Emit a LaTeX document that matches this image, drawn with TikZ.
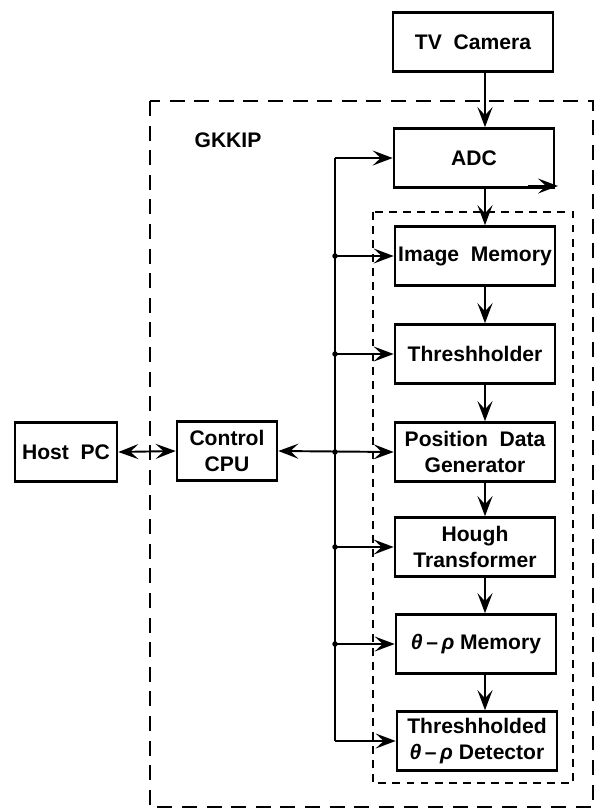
\documentclass[tikz,border=0pt]{standalone}
\usepackage{fontspec}
\setmainfont{Liberation Sans}
\usetikzlibrary{arrows.meta}
\tikzset{
  blk/.style={draw, line width=1.5pt, minimum width=32mm, minimum height=11.8mm, inner sep=1pt, align=center, font=\fontsize{12}{14.5}\selectfont\bfseries},
  arr/.style={line width=1.1pt, -{Stealth[length=4mm,width=3mm,inset=1.6mm]}},
  arrs/.style={line width=1.1pt, {Stealth[length=4mm,width=3mm,inset=1.6mm]}-{Stealth[length=4mm,width=3mm,inset=1.6mm]}},
  jdot/.style={circle, fill, inner sep=0pt, minimum size=1.1mm},
}
\newcommand{\tr}{\textit{θ}\,–\,\textit{ρ}}
\begin{document}
\begin{tikzpicture}[x=.2mm, y=-.2mm]
\useasboundingbox (0,0) rectangle (599,810);
% frames
\draw[line width=1.3pt, dash pattern=on 8.5pt off 5.5pt] (150,101) rectangle (593,807);
\draw[line width=1pt, dash pattern=on 4.5pt off 3.5pt] (373,212) rectangle (573,783);
\node[font=\fontsize{12}{14}\selectfont\bfseries] (gkkip) at (228,140) {GKKIP};
% blocks
\node[blk] (cam) at (473,42) {TV\ \ Camera};
\node[blk] (adc) at (474,158) {ADC};
\node[blk] (imem) at (475,256) {Image\ \ Memory};
\node[blk] (thr) at (475,354) {Threshholder};
\node[blk] (pdg) at (475,452) {Position\ \ Data\\Generator};
\node[blk] (hough) at (475,547) {Hough\\Transformer};
\node[blk] (tmem) at (476,644) {\tr\ Memory};
\node[blk] (tdet) at (477,741) {Threshholded\\\tr\ Detector};
\node[blk, minimum width=20.4mm] (host) at (66,452) {Host\ \ PC};
\node[blk, minimum width=20mm] (cpu) at (227,451) {Control\\CPU};
% data flow
\coordinate (flow) at (485,0);
\coordinate (adcin) at (528,186);
\coordinate (adcout) at (558,186);
\draw[arr] (cam.south -| flow) -- (adc.north -| flow);
\draw[arr] (adcin) -- (adcout);
\draw[arr] (adc.south -| flow) -- (imem.north -| flow);
\draw[arr] (imem.south -| flow) -- (thr.north -| flow);
\draw[arr] (thr.south -| flow) -- (pdg.north -| flow);
\draw[arr] (pdg.south -| flow) -- (hough.north -| flow);
\draw[arr] (hough.south -| flow) -- (tmem.north -| flow);
\draw[arr] (tmem.south -| flow) -- (tdet.north -| flow);
% control bus
\coordinate (bus) at (335,0);
\draw[arrs] (host.east) -- (cpu.west);
\draw[arrs] (cpu.east) -- (pdg.west);
\draw[line width=1.1pt] (bus |- adc.west) -- (bus |- tdet.west);
\foreach \b in {adc, imem, thr, hough, tmem, tdet}
  \draw[arr] (bus |- \b.west) -- (\b.west);
\foreach \b in {imem, thr, pdg, hough, tmem}
  \node[jdot] at (bus |- \b.west) {};
\end{tikzpicture}
\end{document}
